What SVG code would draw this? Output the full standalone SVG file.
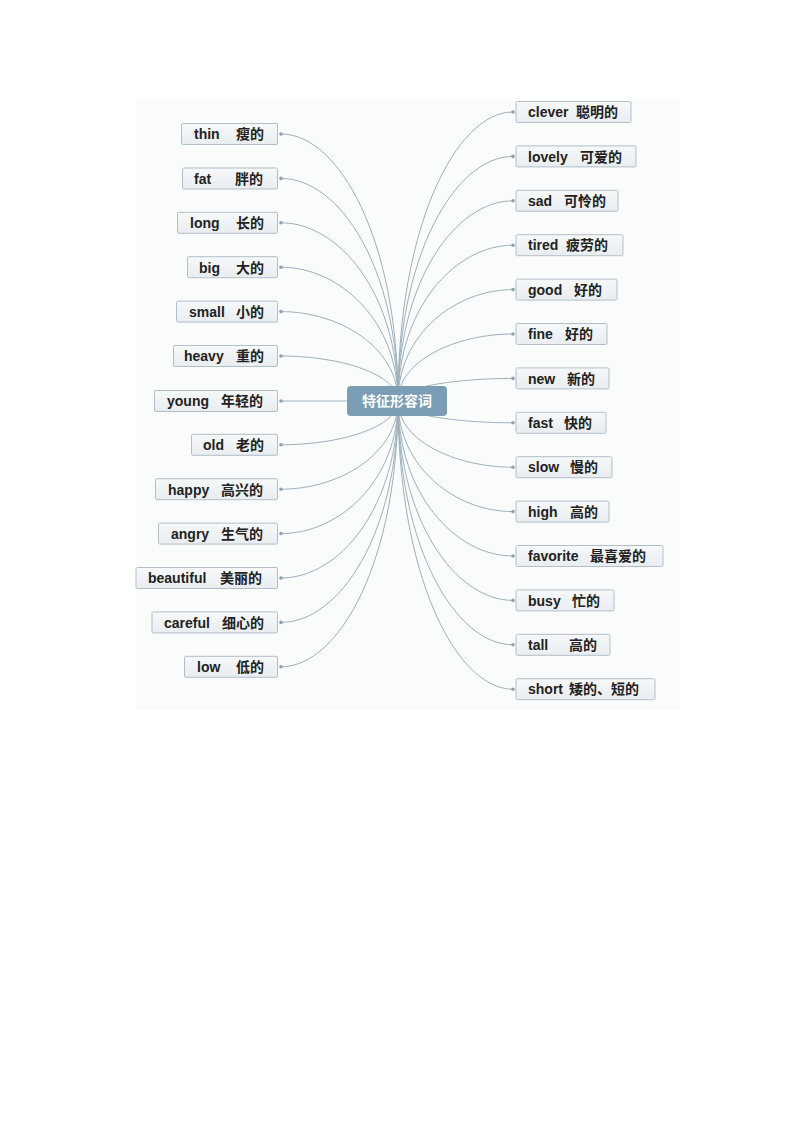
<svg xmlns="http://www.w3.org/2000/svg" width="800" height="1132" viewBox="0 0 800 1132">
<defs>
<linearGradient id="bg" x1="0" y1="0" x2="0" y2="1"><stop offset="0" stop-color="#f6f8f9"/><stop offset="1" stop-color="#e9edf0"/></linearGradient>
<style>
.box{fill:url(#bg);stroke:#b3bfc8;stroke-width:1}
.t{font-family:"Liberation Sans","Noto Sans CJK SC",sans-serif;font-weight:bold;font-size:14px;fill:#222}
.c{fill:none;stroke:#9eb0bc;stroke-width:1}
.d{fill:#8ea3b1}
.center{fill:#7c9db6}
.ct{font-family:"Noto Sans CJK SC","Liberation Sans",sans-serif;font-weight:bold;font-size:14px;fill:#fff}
</style>
</defs>
<rect x="0" y="0" width="800" height="1132" fill="#fff"/>
<rect x="136" y="100" width="544" height="610" fill="#fafbfb"/>
<g id="connectors">
<path class="c" d="M398,401 C398,240.8 339.5,134 281,134"/>
<path class="c" d="M398,401 C398,267.4 339.5,178.4 281,178.4"/>
<path class="c" d="M398,401 C398,294.1 339.5,222.8 281,222.8"/>
<path class="c" d="M398,401 C398,320.7 339.5,267.2 281,267.2"/>
<path class="c" d="M398,401 C398,347.4 339.5,311.6 281,311.6"/>
<path class="c" d="M398,401 C398,374 339.5,356 281,356"/>
<path class="c" d="M398,401 L281,401"/>
<path class="c" d="M398,401 C398,427.3 339.5,444.8 281,444.8"/>
<path class="c" d="M398,401 C398,453.9 339.5,489.2 281,489.2"/>
<path class="c" d="M398,401 C398,480.6 339.5,533.6 281,533.6"/>
<path class="c" d="M398,401 C398,507.2 339.5,578 281,578"/>
<path class="c" d="M398,401 C398,533.8 339.5,622.4 281,622.4"/>
<path class="c" d="M398,401 C398,560.5 339.5,666.8 281,666.8"/>
<path class="c" d="M398,401 C398,227.6 455.5,112 513,112"/>
<path class="c" d="M398,401 C398,254.2 455.5,156.4 513,156.4"/>
<path class="c" d="M398,401 C398,280.9 455.5,200.8 513,200.8"/>
<path class="c" d="M398,401 C398,307.5 455.5,245.2 513,245.2"/>
<path class="c" d="M398,401 C398,334.2 455.5,289.6 513,289.6"/>
<path class="c" d="M398,401 C398,360.8 455.5,334 513,334"/>
<path class="c" d="M398,401 C398,387.4 455.5,378.4 513,378.4"/>
<path class="c" d="M398,401 C398,414.1 455.5,422.8 513,422.8"/>
<path class="c" d="M398,401 C398,440.7 455.5,467.2 513,467.2"/>
<path class="c" d="M398,401 C398,467.4 455.5,511.6 513,511.6"/>
<path class="c" d="M398,401 C398,494 455.5,556 513,556"/>
<path class="c" d="M398,401 C398,520.6 455.5,600.4 513,600.4"/>
<path class="c" d="M398,401 C398,547.3 455.5,644.8 513,644.8"/>
<path class="c" d="M398,401 C398,573.9 455.5,689.2 513,689.2"/>
<g class="d">
<circle cx="281" cy="134" r="1.8"/><circle cx="281" cy="178.4" r="1.8"/><circle cx="281" cy="222.8" r="1.8"/><circle cx="281" cy="267.2" r="1.8"/><circle cx="281" cy="311.6" r="1.8"/><circle cx="281" cy="356" r="1.8"/><circle cx="281" cy="401" r="1.8"/><circle cx="281" cy="444.8" r="1.8"/><circle cx="281" cy="489.2" r="1.8"/><circle cx="281" cy="533.6" r="1.8"/><circle cx="281" cy="578" r="1.8"/><circle cx="281" cy="622.4" r="1.8"/><circle cx="281" cy="666.8" r="1.8"/>
<circle cx="513" cy="112" r="1.8"/><circle cx="513" cy="156.4" r="1.8"/><circle cx="513" cy="200.8" r="1.8"/><circle cx="513" cy="245.2" r="1.8"/><circle cx="513" cy="289.6" r="1.8"/><circle cx="513" cy="334" r="1.8"/><circle cx="513" cy="378.4" r="1.8"/><circle cx="513" cy="422.8" r="1.8"/><circle cx="513" cy="467.2" r="1.8"/><circle cx="513" cy="511.6" r="1.8"/><circle cx="513" cy="556" r="1.8"/><circle cx="513" cy="600.4" r="1.8"/><circle cx="513" cy="644.8" r="1.8"/><circle cx="513" cy="689.2" r="1.8"/>
</g>
</g>
<g id="center"><rect class="center" x="347" y="386" width="100" height="30" rx="4"/><text class="ct" x="397" y="406" text-anchor="middle">特征形容词</text></g>
<g id="n-thin"><rect class="box" x="181.5" y="123.5" width="96" height="21" rx="1.5"/><text class="t" y="139"><tspan x="194">thin</tspan><tspan x="236">瘦的</tspan></text></g>
<g id="n-fat"><rect class="box" x="182.5" y="168" width="95" height="21" rx="1.5"/><text class="t" y="183.5"><tspan x="194">fat</tspan><tspan x="235">胖的</tspan></text></g>
<g id="n-long"><rect class="box" x="177.5" y="212.3" width="100" height="21" rx="1.5"/><text class="t" y="228"><tspan x="190">long</tspan><tspan x="236">长的</tspan></text></g>
<g id="n-big"><rect class="box" x="187.5" y="256.7" width="90" height="21" rx="1.5"/><text class="t" y="272.5"><tspan x="199">big</tspan><tspan x="236">大的</tspan></text></g>
<g id="n-small"><rect class="box" x="176.5" y="301.1" width="101" height="21" rx="1.5"/><text class="t" y="317"><tspan x="189">small</tspan><tspan x="236">小的</tspan></text></g>
<g id="n-heavy"><rect class="box" x="173.5" y="345.5" width="104" height="21" rx="1.5"/><text class="t" y="361"><tspan x="184">heavy</tspan><tspan x="236">重的</tspan></text></g>
<g id="n-young"><rect class="box" x="154.5" y="390.5" width="123" height="21" rx="1.5"/><text class="t" y="406"><tspan x="167">young</tspan><tspan x="221">年轻的</tspan></text></g>
<g id="n-old"><rect class="box" x="191.5" y="434.3" width="86" height="21" rx="1.5"/><text class="t" y="450"><tspan x="203">old</tspan><tspan x="236">老的</tspan></text></g>
<g id="n-happy"><rect class="box" x="155.5" y="478.7" width="122" height="21" rx="1.5"/><text class="t" y="494.5"><tspan x="168">happy</tspan><tspan x="221">高兴的</tspan></text></g>
<g id="n-angry"><rect class="box" x="158.5" y="523.1" width="119" height="21" rx="1.5"/><text class="t" y="539"><tspan x="171">angry</tspan><tspan x="221">生气的</tspan></text></g>
<g id="n-beautiful"><rect class="box" x="136" y="567.5" width="141.5" height="21" rx="1.5"/><text class="t" y="583"><tspan x="148">beautiful</tspan><tspan x="220">美丽的</tspan></text></g>
<g id="n-careful"><rect class="box" x="152" y="611.9" width="125.5" height="21" rx="1.5"/><text class="t" y="627.5"><tspan x="164">careful</tspan><tspan x="222">细心的</tspan></text></g>
<g id="n-low"><rect class="box" x="184.5" y="656.3" width="93" height="21" rx="1.5"/><text class="t" y="672"><tspan x="197">low</tspan><tspan x="236">低的</tspan></text></g>
<g id="n-clever"><rect class="box" x="516" y="101.5" width="115" height="21" rx="1.5"/><text class="t" y="117"><tspan x="528">clever</tspan><tspan x="576">聪明的</tspan></text></g>
<g id="n-lovely"><rect class="box" x="516" y="145.9" width="120" height="21" rx="1.5"/><text class="t" y="161.5"><tspan x="528">lovely</tspan><tspan x="580">可爱的</tspan></text></g>
<g id="n-sad"><rect class="box" x="516" y="190.3" width="102" height="21" rx="1.5"/><text class="t" y="206"><tspan x="528">sad</tspan><tspan x="564">可怜的</tspan></text></g>
<g id="n-tired"><rect class="box" x="516" y="234.7" width="107" height="21" rx="1.5"/><text class="t" y="250"><tspan x="528">tired</tspan><tspan x="566">疲劳的</tspan></text></g>
<g id="n-good"><rect class="box" x="516" y="279.1" width="101" height="21" rx="1.5"/><text class="t" y="294.5"><tspan x="528">good</tspan><tspan x="574">好的</tspan></text></g>
<g id="n-fine"><rect class="box" x="516" y="323.5" width="91" height="21" rx="1.5"/><text class="t" y="339"><tspan x="528">fine</tspan><tspan x="565">好的</tspan></text></g>
<g id="n-new"><rect class="box" x="516" y="367.9" width="93" height="21" rx="1.5"/><text class="t" y="383.5"><tspan x="528">new</tspan><tspan x="567">新的</tspan></text></g>
<g id="n-fast"><rect class="box" x="516" y="412.3" width="90" height="21" rx="1.5"/><text class="t" y="428"><tspan x="528">fast</tspan><tspan x="564">快的</tspan></text></g>
<g id="n-slow"><rect class="box" x="516" y="456.7" width="96" height="21" rx="1.5"/><text class="t" y="472"><tspan x="528">slow</tspan><tspan x="570">慢的</tspan></text></g>
<g id="n-high"><rect class="box" x="516" y="501.1" width="93" height="21" rx="1.5"/><text class="t" y="516.5"><tspan x="528">high</tspan><tspan x="570">高的</tspan></text></g>
<g id="n-favorite"><rect class="box" x="516" y="545.5" width="147" height="21" rx="1.5"/><text class="t" y="561"><tspan x="528">favorite</tspan><tspan x="590">最喜爱的</tspan></text></g>
<g id="n-busy"><rect class="box" x="516" y="589.9" width="98" height="21" rx="1.5"/><text class="t" y="605.5"><tspan x="528">busy</tspan><tspan x="572">忙的</tspan></text></g>
<g id="n-tall"><rect class="box" x="516" y="634.3" width="94" height="21" rx="1.5"/><text class="t" y="650"><tspan x="528">tall</tspan><tspan x="569">高的</tspan></text></g>
<g id="n-short"><rect class="box" x="516" y="678.7" width="139" height="21" rx="1.5"/><text class="t" y="694"><tspan x="528">short</tspan><tspan x="569">矮的、短的</tspan></text></g>
</svg>
